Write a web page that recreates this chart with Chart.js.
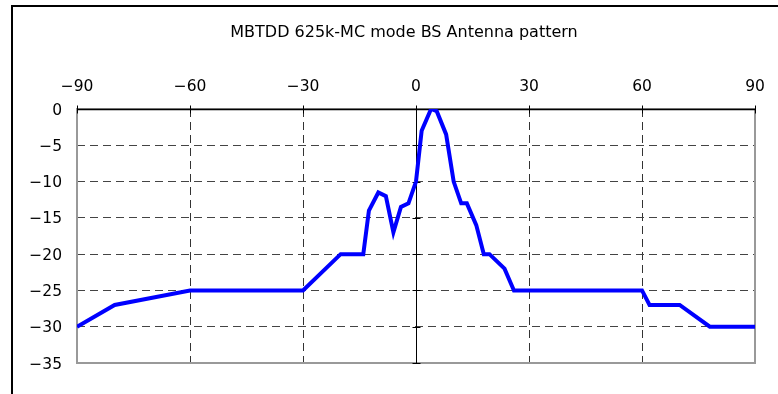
<!DOCTYPE html>
<html>
<head>
<meta charset="utf-8">
<script src="https://cdn.jsdelivr.net/npm/chart.js@4/dist/chart.umd.min.js"></script>
<style>
html,body{margin:0;padding:0;background:#fff;}
#wrap{width:778px;height:394px;position:relative;}
</style>
</head>
<body>
<div id="wrap"><canvas id="c" width="778" height="394"></canvas></div>
<script>
// ---- data ----
const angles = [-90, -80, -60, -30, -20, -14, -12.5, -10, -8, -6, -4, -2, 0, 1.5, 4, 5.5, 8, 10, 12, 13.5, 16, 18, 19.5, 23.5, 26, 60, 62, 70, 78, 90];
const gains  = [-30, -27, -25, -25, -20, -20, -14, -11.5, -12, -17, -13.5, -13, -10, -3, 0, -0.3, -3.5, -10, -13, -13, -16, -20, -20, -22, -25, -25, -27, -27, -30, -30];
const xTickValues = [-90, -60, -30, 0, 30, 60, 90];
const xTickLabels = ['\u221290', '\u221260', '\u221230', '0', '30', '60', '90'];
const yTickValues = [0, -5, -10, -15, -20, -25, -30, -35];
const yTickLabels = ['0', '\u22125', '\u221210', '\u221215', '\u221220', '\u221225', '\u221230', '\u221235'];
const titleText = 'MBTDD 625k-MC mode BS Antenna pattern';

const FONT = "'DejaVu Sans', 'Liberation Sans', sans-serif";
const FSIZE = 15.5;
const TSIZE = 16;
const points = angles.map((a, i) => ({x: a, y: gains[i]}));

const frame = {
  id: 'frame',
  afterLayout(chart) {
    const t = chart.titleBlock;
    if (t) { t.left = 53; t.right = 755; t.width = 702; }
  },
  beforeDraw(chart) {
    const ctx = chart.ctx;
    ctx.save();
    ctx.fillStyle = '#fff';
    ctx.fillRect(0, 0, chart.width, chart.height);
    ctx.strokeStyle = '#000';
    ctx.lineWidth = 2;
    ctx.beginPath();
    ctx.moveTo(12, chart.height);
    ctx.lineTo(12, 6);
    ctx.lineTo(chart.width, 6);
    ctx.stroke();
    ctx.restore();
  },
  beforeDatasetsDraw(chart) {
    const ctx = chart.ctx;
    const a = chart.chartArea;
    const xs = chart.scales.x, ys = chart.scales.y;
    ctx.save();
    ctx.strokeStyle = '#999';
    ctx.lineWidth = 2;
    ctx.strokeRect(a.left, a.top, a.right - a.left, a.bottom - a.top);
    const y0 = Math.round(ys.getPixelForValue(0)) + 0.5;
    const x0 = Math.round(xs.getPixelForValue(0)) + 0.5;
    ctx.strokeStyle = '#000';
    ctx.lineWidth = 1.5;
    ctx.beginPath();
    ctx.moveTo(a.left, y0); ctx.lineTo(a.right, y0);
    ctx.stroke();
    ctx.lineWidth = 1;
    ctx.beginPath();
    ctx.moveTo(x0, a.top); ctx.lineTo(x0, a.bottom);
    xTickValues.forEach(v => {
      const px = Math.round(xs.getPixelForValue(v)) + 0.5;
      ctx.moveTo(px, y0 - 4); ctx.lineTo(px, y0 + 4);
    });
    yTickValues.forEach(v => {
      const py = Math.round(ys.getPixelForValue(v)) + 0.5;
      ctx.moveTo(x0 - 4, py); ctx.lineTo(x0 + 4, py);
    });
    ctx.stroke();
    ctx.restore();
  }
};

new Chart(document.getElementById('c'), {
  type: 'scatter',
  data: {
    datasets: [{
      data: points,
      showLine: true,
      borderColor: '#0000ff',
      backgroundColor: '#0000ff',
      borderWidth: 4,
      pointRadius: 0,
      tension: 0,
      borderJoinStyle: 'miter'
    }]
  },
  options: {
    responsive: false,
    animation: false,
    devicePixelRatio: 1,
    layout: {padding: {left: 0, right: 23, top: 0, bottom: 31}},
    plugins: {
      legend: {display: false},
      tooltip: {enabled: false},
      title: {
        display: true,
        text: titleText,
        color: '#000',
        font: {family: FONT, size: TSIZE, weight: 'normal', lineHeight: 20 / TSIZE},
        padding: {top: 23, bottom: 9}
      }
    },
    scales: {
      x: {
        type: 'linear',
        position: 'top',
        min: -90, max: 90,
        afterFit(s) { s.height = 57; },
        ticks: {
          stepSize: 30,
          padding: 13,
          color: '#000',
          font: {family: FONT, size: FSIZE},
          maxRotation: 0,
          callback(v) { const i = xTickValues.indexOf(v); return i >= 0 ? xTickLabels[i] : ''; }
        },
        grid: {
          drawTicks: false,
          lineWidth: 1,
          color: c => (c.tick && (c.tick.value === 0 || Math.abs(c.tick.value) === 90)) ? 'rgba(0,0,0,0)' : '#333'
        },
        border: {display: false, dash: [8, 5]}
      },
      y: {
        type: 'linear',
        position: 'left',
        min: -35, max: 0,
        afterFit(s) { s.width = 77; },
        ticks: {
          stepSize: 5,
          padding: 15,
          labelOffset: 1.5,
          color: '#000',
          font: {family: FONT, size: FSIZE},
          callback(v) { const i = yTickValues.indexOf(v); return i >= 0 ? yTickLabels[i] : ''; }
        },
        grid: {
          drawTicks: false,
          lineWidth: 1,
          color: c => (c.tick && (c.tick.value === 0 || c.tick.value === -35)) ? 'rgba(0,0,0,0)' : '#444'
        },
        border: {display: false, dash: [8, 5]}
      }
    }
  },
  plugins: [frame]
});
</script>
</body>
</html>
